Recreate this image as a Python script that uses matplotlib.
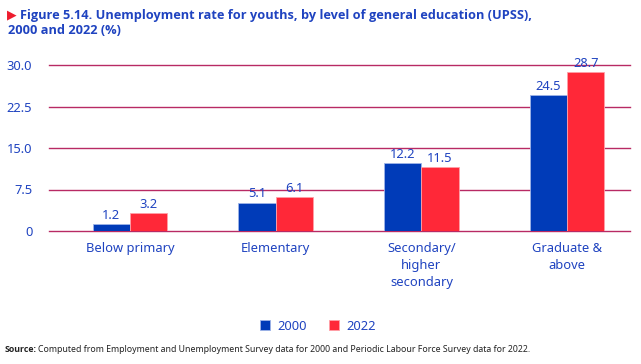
import numpy as np
import matplotlib.pyplot as plt

# data
categories = ["Below primary", "Elementary", "Secondary/\nhigher\nsecondary", "Graduate &\nabove"]
years = ["2000", "2022"]
rate_2000 = [1.2, 5.1, 12.2, 24.5]
rate_2022 = [3.2, 6.1, 11.5, 28.7]
y_ticks = [0, 7.5, 15.0, 22.5, 30.0]
y_tick_labels = ["0", "7.5", "15.0", "22.5", "30.0"]

BLUE = "#003bb8"
RED = "#ff2838"
TEXT = "#1f43c0"
GRID = "#b82a64"

plt.rcParams['font.family'] = ['Noto Sans', 'DejaVu Sans']

fig = plt.figure(figsize=(6.41, 3.64), dpi=100)
ax = fig.add_axes([49 / 641, 1 - 231 / 364, (630 - 49) / 641, (231 - 65) / 364])

x = np.arange(len(categories))
w = 0.256
b1 = ax.bar(x - w / 2, rate_2000, w, color=BLUE, edgecolor="#9fb4e8", linewidth=0.6, zorder=3, label=years[0])
b2 = ax.bar(x + w / 2, rate_2022, w, color=RED, edgecolor="#ffa0a8", linewidth=0.6, zorder=3, label=years[1])

for bars, vals in ((b1, rate_2000), (b2, rate_2022)):
    for r, v in zip(bars, vals):
        ax.text(r.get_x() + r.get_width() / 2, v + 0.45, f"{v:.1f}", ha="center", va="bottom",
                fontsize=9.3, color=TEXT, zorder=4)

for yt in y_ticks:
    ax.axhline(yt, color=GRID, linewidth=1.0, zorder=1, clip_on=False)

ax.set_xlim(-0.556, 3.432)
ax.set_ylim(0, 30)
ax.set_yticks(y_ticks)
ax.set_yticklabels(y_tick_labels)
ax.set_xticks(x)
ax.set_xticklabels(categories, linespacing=1.4)
ax.tick_params(axis="both", length=0, labelsize=9.3, labelcolor=TEXT)
ax.tick_params(axis="y", pad=12)
ax.tick_params(axis="x", pad=8)
for s in ax.spines.values():
    s.set_visible(False)

# title
fig.text(7 / 641, 1 - 15 / 364, "\u25B6", color="#ee1c2e", fontsize=9, va="center", ha="left",
         family=['DejaVu Sans'])
fig.text(20 / 641, 1 - 15 / 364,
         "Figure 5.14. Unemployment rate for youths, by level of general education (UPSS),",
         color=TEXT, fontsize=9.2, fontweight="bold", va="center", ha="left", family=['Open Sans'])
fig.text(8 / 641, 1 - 31 / 364, "2000 and 2022 (%)",
         color=TEXT, fontsize=9.2, fontweight="bold", va="center", ha="left", family=['Open Sans'])

# legend
leg = fig.legend(handles=[b1, b2], labels=years, loc="center", bbox_to_anchor=(318 / 641, 1 - 326 / 364),
                 ncol=2, frameon=False, fontsize=9.3, handlelength=0.8, handleheight=0.8,
                 columnspacing=1.7, handletextpad=0.55)
for t in leg.get_texts():
    t.set_color(TEXT)

# source
fig.text(5 / 641, 1 - 349 / 364, "Source:", fontsize=6.3, fontweight="bold", color="#222222",
         va="center", ha="left", family=['Open Sans'])
fig.text(38 / 641, 1 - 349 / 364,
         "Computed from Employment and Unemployment Survey data for 2000 and Periodic Labour Force Survey data for 2022.",
         fontsize=6.3, color="#222222", va="center", ha="left")

fig.savefig("out.png", dpi=100)
